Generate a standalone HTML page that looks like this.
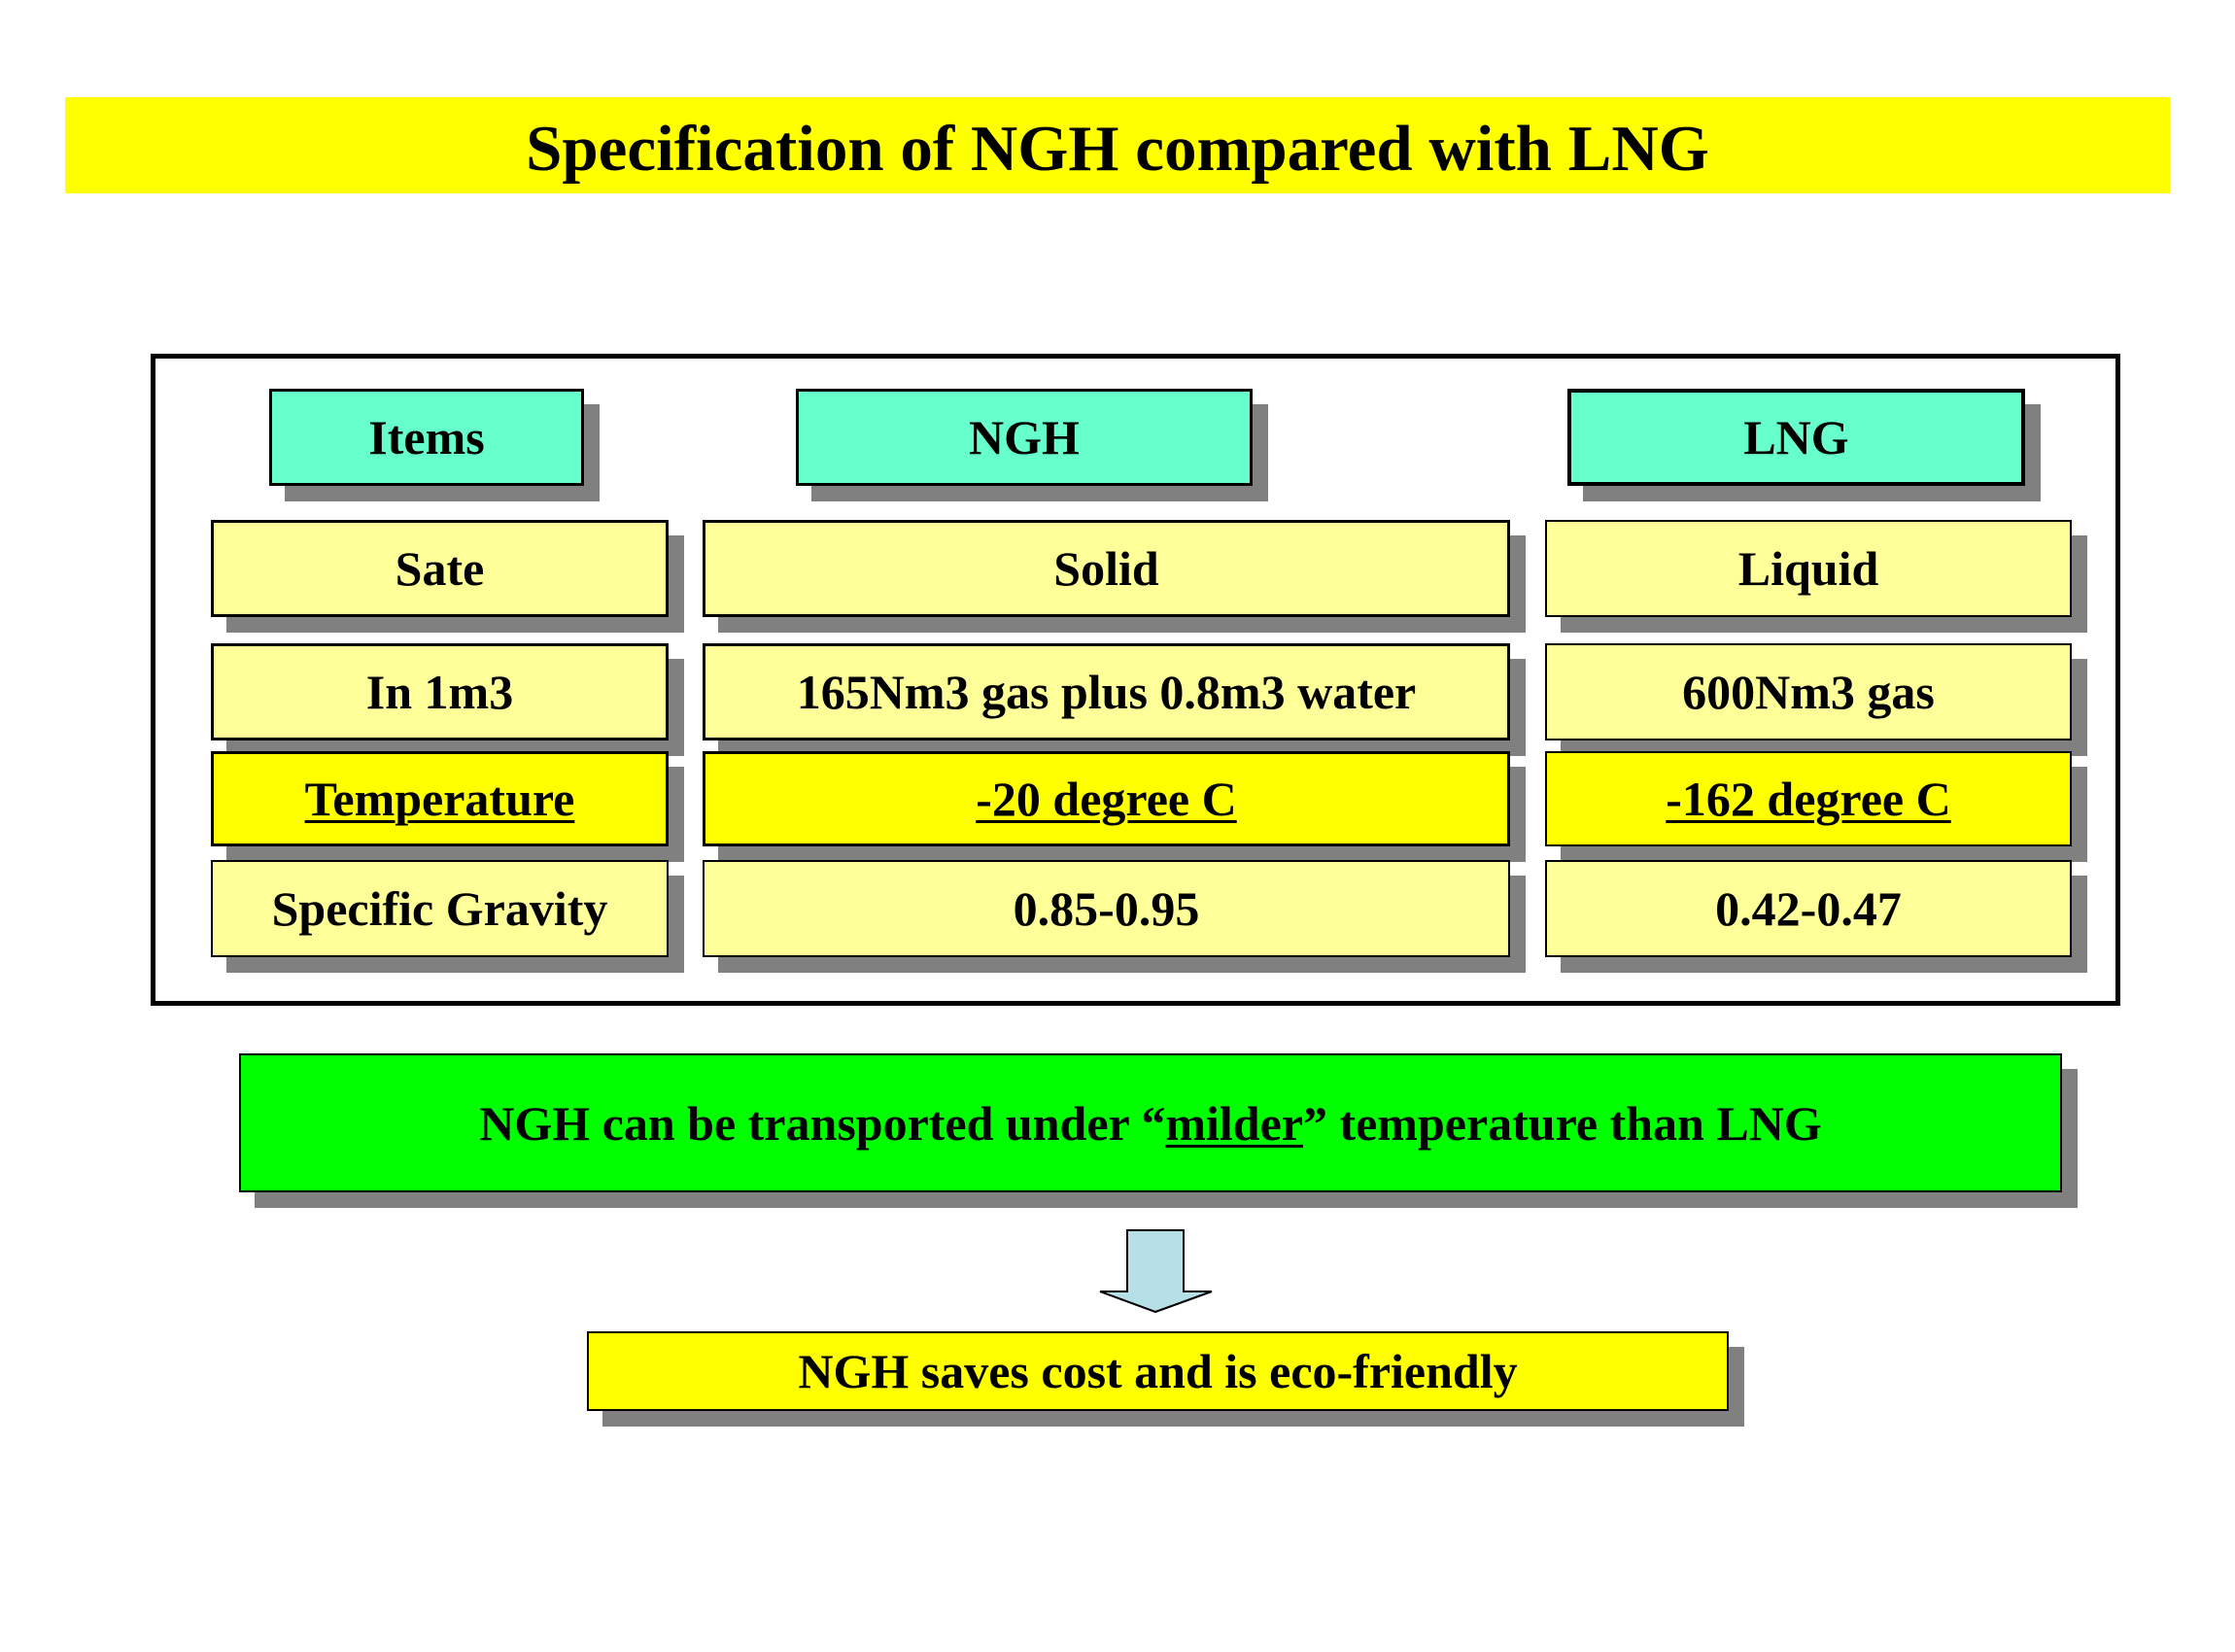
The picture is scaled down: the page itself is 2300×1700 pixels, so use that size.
<!DOCTYPE html>
<html><head><style>
body{margin:0;width:2300px;height:1700px;background:#fff;position:relative;overflow:hidden;font-family:"Liberation Serif",serif;font-weight:bold;}
.b{position:absolute;box-sizing:border-box;border:3px solid #000;display:flex;align-items:center;justify-content:center;font-size:50px;color:#000;box-shadow:16px 16px 0 #808080;white-space:nowrap}
.h{background:#66ffcc}
.y{background:#ffff99}
.t{background:#ffff00}
u{text-decoration-thickness:3px;text-underline-offset:5px}
</style></head><body>
<div style="position:absolute;left:67px;top:100px;width:2166px;height:99px;background:#ffff00;display:flex;align-items:center;justify-content:center;font-size:67px;padding-top:8px;box-sizing:border-box">Specification of NGH compared with LNG</div>
<div style="position:absolute;left:155px;top:364px;width:2027px;height:671px;border:5px solid #000;box-sizing:border-box"></div>

<div class="b h" style="left:277px;top:400px;width:324px;height:100px">Items</div>
<div class="b h" style="left:819px;top:400px;width:470px;height:100px">NGH</div>
<div class="b h" style="left:1613px;top:400px;width:471px;height:100px;border-width:4px">LNG</div>

<div class="b y" style="left:217px;top:535px;width:471px;height:100px">Sate</div>
<div class="b y" style="left:723px;top:535px;width:831px;height:100px">Solid</div>
<div class="b y" style="left:1590px;top:535px;width:542px;height:100px;border-width:2px">Liquid</div>

<div class="b y" style="left:217px;top:662px;width:471px;height:100px">In 1m3</div>
<div class="b y" style="left:723px;top:662px;width:831px;height:100px">165Nm3 gas plus 0.8m3 water</div>
<div class="b y" style="left:1590px;top:662px;width:542px;height:100px;border-width:2px">600Nm3 gas</div>

<div class="b t" style="left:217px;top:773px;width:471px;height:98px"><u>Temperature</u></div>
<div class="b t" style="left:723px;top:773px;width:831px;height:98px"><u>-20 degree C</u></div>
<div class="b t" style="left:1590px;top:773px;width:542px;height:98px;border-width:2px"><u>-162 degree C</u></div>

<div class="b y" style="left:217px;top:885px;width:471px;height:100px;border-width:2px">Specific Gravity</div>
<div class="b y" style="left:723px;top:885px;width:831px;height:100px;border-width:2px">0.85-0.95</div>
<div class="b y" style="left:1590px;top:885px;width:542px;height:100px;border-width:2px">0.42-0.47</div>

<div class="b" style="left:246px;top:1084px;width:1876px;height:143px;background:#00ff00;border-width:2px">NGH can be transported under “<u>milder</u>” temperature than LNG</div>

<svg style="position:absolute;left:0;top:0" width="2300" height="1700">
<polygon points="1160,1266 1218,1266 1218,1329 1247,1329 1189,1350 1132,1329 1160,1329" fill="#b7e0e6" stroke="#000" stroke-width="2"/>
</svg>

<div class="b t" style="left:604px;top:1370px;width:1175px;height:82px;border-width:2px">NGH saves cost and is eco-friendly</div>
</body></html>
